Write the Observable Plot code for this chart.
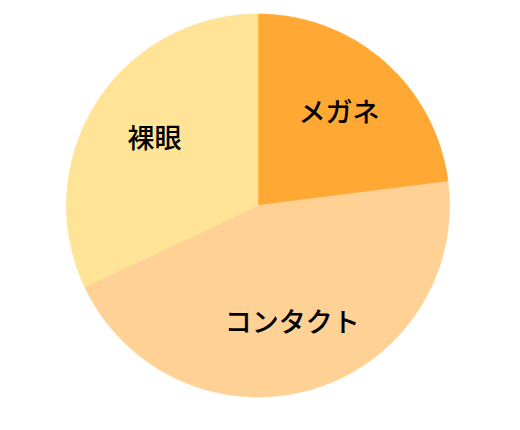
<!DOCTYPE html>
<html>
<head>
<meta charset="utf-8">
<script src="https://cdn.jsdelivr.net/npm/d3@7"></script>
<script src="https://cdn.jsdelivr.net/npm/@observablehq/plot@0.6"></script>
<style>
  html, body { margin: 0; padding: 0; background: #fff; }
  #chart svg { display: block; }
</style>
</head>
<body>
<div id="chart"></div>
<script>
// Data
const categories = ["メガネ", "コンタクト", "裸眼"];
const shares = [23, 45, 32];
const colors = ["#FFA833", "#FFD194", "#FFE396"];

// Pie layout (angles clockwise from 12 o'clock)
const arcs = d3.pie().sort(null).value(d => d.value)(
  categories.map((name, i) => ({name, value: shares[i]}))
);

// Slice outlines in unit-circle coordinates
const outline = [];
for (const a of arcs) {
  const name = a.data.name;
  outline.push({name, x: 0, y: 0});
  const n = Math.max(2, Math.ceil((a.endAngle - a.startAngle) / (Math.PI / 360)));
  for (let k = 0; k <= n; k++) {
    const t = a.startAngle + (a.endAngle - a.startAngle) * k / n;
    outline.push({name, x: Math.sin(t), y: Math.cos(t)});
  }
  outline.push({name, x: 0, y: 0});
}

// Labels at the mid-angle of each slice
const labelRadius = 0.64;
const labels = arcs.map(a => {
  const t = (a.startAngle + a.endAngle) / 2;
  return {name: a.data.name, x: labelRadius * Math.sin(t), y: labelRadius * Math.cos(t)};
});

const chart = Plot.plot({
  width: 520,
  height: 430,
  marginLeft: 66,
  marginRight: 71,
  marginTop: 13.5,
  marginBottom: 33.5,
  x: {domain: [-1, 1], axis: null},
  y: {domain: [-1, 1], axis: null},
  color: {domain: categories, range: colors},
  style: {fontFamily: "'Noto Sans CJK JP', sans-serif", background: "#fff"},
  marks: [
    Plot.line(outline, {x: "x", y: "y", z: "name", fill: "name", stroke: "name", strokeWidth: 0.6, curve: "linear"}),
    Plot.text(labels, {x: "x", y: "y", text: "name", fill: "#000", fontSize: 27, fontWeight: 500, fontFamily: "'Noto Sans CJK JP', sans-serif"})
  ]
});
document.getElementById("chart").appendChild(chart);
</script>
</body>
</html>
